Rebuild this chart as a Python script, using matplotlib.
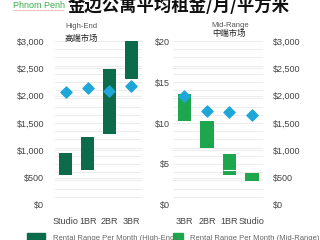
import matplotlib
matplotlib.use('Agg')
import matplotlib.pyplot as plt
from matplotlib.ticker import FuncFormatter, MultipleLocator

plt.rcParams['font.family'] = ['Liberation Sans', 'Noto Sans CJK SC', 'DejaVu Sans']

# high-end market (monthly rent, USD)
high_cats = ['Studio', '1BR', '2BR', '3BR']
high_low = [550, 640, 1300, 2300]
high_high = [950, 1250, 2490, 3000]
high_sqm = [13.8, 14.3, 13.9, 14.5]

# mid-range market
mid_cats = ['3BR', '2BR', '1BR', 'Studio']
mid_low = [1540, 1040, 540, 440]
mid_high = [2030, 1530, 930, 580]
mid_split = [None, None, 640, None]
mid_sqm = [13.3, 11.5, 11.4, 11.0]

dark_green = '#0b6b4a'
mid_green = '#1ea64e'
diamond = '#1fa6d9'
grid_c = '#e9e9e9'
tick_c = '#444444'
cjk = ['Noto Sans CJK SC', 'DejaVu Sans']

money = FuncFormatter(lambda v, p: f'${v:,.0f}')

fig = plt.figure(figsize=(3.2, 2.4), dpi=100)
ax1 = fig.add_axes([0.172, 0.146, 0.272, 0.683])
ax2 = fig.add_axes([0.541, 0.146, 0.281, 0.683])


def panel(ax, cats, low, high, sqm, color):
    x = range(len(cats))
    ax.set_ylim(0, 3000)
    ax.set_xlim(-0.5, 3.5)
    ax.yaxis.set_major_locator(MultipleLocator(500))
    ax.yaxis.set_minor_locator(MultipleLocator(150))
    ax.grid(axis='y', which='both', color=grid_c, lw=0.6)
    ax.set_axisbelow(True)
    heights = [h - l for l, h in zip(low, high)]
    ax.bar(x, heights, bottom=low, width=0.6, color=color, zorder=2)
    ax.set_xticks(list(x))
    ax.set_xticklabels(cats, fontsize=6.5, color=tick_c)
    for s in ax.spines.values():
        s.set_visible(False)
    ax.tick_params(length=0, which='both')
    ax.tick_params(axis='x', pad=9)
    tw = ax.twinx()
    tw.set_ylim(0, 20)
    tw.yaxis.set_major_locator(MultipleLocator(5))
    tw.scatter(list(x), sqm, marker='D', s=32, color=diamond, zorder=3)
    for s in tw.spines.values():
        s.set_visible(False)
    tw.tick_params(length=0, which='both')
    tw.set_yticklabels([])
    return tw


t1 = panel(ax1, high_cats, high_low, high_high, high_sqm, dark_green)
ax1.yaxis.set_major_formatter(money)
ax1.tick_params(axis='y', labelsize=6.5, labelcolor=tick_c, pad=8)

t2 = panel(ax2, mid_cats, mid_low, mid_high, mid_sqm, mid_green)
for i, v in enumerate(mid_split):
    if v is not None:
        ax2.hlines(v, i - 0.3, i + 0.3, color='white', lw=0.8, zorder=3)
ax2.yaxis.tick_right()
ax2.yaxis.set_major_formatter(money)
ax2.tick_params(axis='y', labelsize=6.5, labelcolor=tick_c, pad=7)
# per-sqm axis shown on the left of the mid-range panel
t2.yaxis.tick_left()
t2.yaxis.set_major_formatter(FuncFormatter(lambda v, p: f'${v:.0f}'))
t2.tick_params(axis='y', labelsize=6.5, labelcolor=tick_c, pad=2)

# titles
fig.text(0.04, 0.968, 'Phnom Penh', fontsize=6.5, color='#3fae49')
fig.add_artist(plt.Line2D([0.04, 0.2], [0.957, 0.957], color='#e05050', lw=0.5, ls=(0, (1, 1))))
fig.text(0.21, 0.975, '金边公寓平均租金/月/平方米', fontsize=12.5, fontweight='bold',
         color='#111111', va='center', family=cjk)
fig.text(0.255, 0.89, 'High-End', fontsize=5.5, color='#555555', ha='center', va='center')
fig.text(0.255, 0.84, '高端市场', fontsize=6, color='#222222', ha='center', va='center', family=cjk)
fig.text(0.72, 0.895, 'Mid-Range', fontsize=5.5, color='#555555', ha='center', va='center')
fig.text(0.715, 0.862, '中端市场', fontsize=6, color='#222222', ha='center', va='center', family=cjk)

# legend (cut off at bottom, as in the source)
fig.add_artist(plt.Rectangle((0.084, -0.01), 0.056, 0.04, color=dark_green, transform=fig.transFigure))
fig.text(0.165, 0.008, 'Rental Range Per Month (High-End)', fontsize=5.5, color='#666666', va='center')
fig.add_artist(plt.Rectangle((0.54, -0.01), 0.032, 0.04, color=mid_green, transform=fig.transFigure))
fig.text(0.595, 0.008, 'Rental Range Per Month (Mid-Range)', fontsize=5.5, color='#666666', va='center')

fig.savefig('out.png', dpi=100)
